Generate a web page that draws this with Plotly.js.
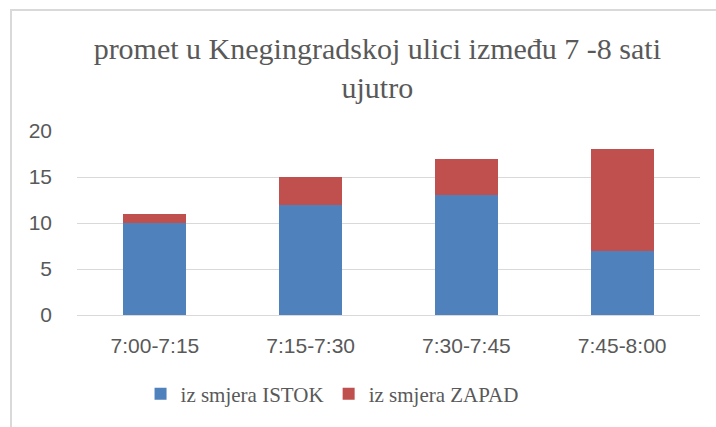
<!DOCTYPE html>
<html>
<head>
<meta charset="utf-8">
<script src="https://cdn.plot.ly/plotly-3.0.1.min.js"></script>
<style>
html,body{margin:0;padding:0;background:#fff;}
#frame{position:absolute;left:10px;top:9px;width:720px;height:430px;border-left:2px solid #d9d9d9;border-top:2px solid #d9d9d9;}
#chart{position:absolute;left:0;top:0;width:716px;height:427px;}
</style>
</head>
<body>
<div id="frame"></div>
<div id="chart"></div>
<script>
const categories = ["7:00-7:15", "7:15-7:30", "7:30-7:45", "7:45-8:00"];
const istok = [10, 12, 13, 7];
const zapad = [1, 3, 4, 11];
const seriesNames = ["iz smjera ISTOK", "iz smjera ZAPAD"];
const titleText = "promet u Knegingradskoj ulici između 7 -8 sati<br>ujutro";

const data = [
  {type: "bar", x: categories, y: istok, name: seriesNames[0], marker: {color: "#4f81bd"}},
  {type: "bar", x: categories, y: zapad, name: seriesNames[1], marker: {color: "#c0504d"}}
];

const layout = {
  width: 716, height: 427,
  margin: {l: 77, r: 16, t: 131, b: 110},
  paper_bgcolor: "rgba(0,0,0,0)",
  plot_bgcolor: "rgba(0,0,0,0)",
  barmode: "stack",
  bargap: 0.595,
  title: {
    text: titleText,
    font: {family: "Liberation Serif, Times New Roman, serif", size: 30, color: "#595959"},
    x: 0.527, xref: "container", xanchor: "center",
    y: 0.862, yref: "container", yanchor: "top"
  },
  xaxis: {
    tickfont: {family: "Liberation Sans, Arial, sans-serif", size: 21, color: "#595959"},
    showgrid: false, showline: false, ticks: "", ticklabelstandoff: 16
  },
  yaxis: {
    range: [0, 20], dtick: 5, tick0: 0,
    tickfont: {family: "Liberation Sans, Arial, sans-serif", size: 21, color: "#595959"},
    gridcolor: "#d9d9d9", gridwidth: 1,
    zeroline: true, zerolinecolor: "#d9d9d9", zerolinewidth: 1,
    showline: false, ticks: "", ticklabelstandoff: 24
  },
  legend: {
    orientation: "h", x: 0.102, xanchor: "left", y: -0.43, yanchor: "middle",
    font: {family: "Liberation Serif, Times New Roman, serif", size: 21, color: "#595959"},
    traceorder: "normal", itemwidth: 30
  },
  showlegend: true
};

Plotly.newPlot("chart", data, layout, {displayModeBar: false, staticPlot: true});
</script>
</body>
</html>
